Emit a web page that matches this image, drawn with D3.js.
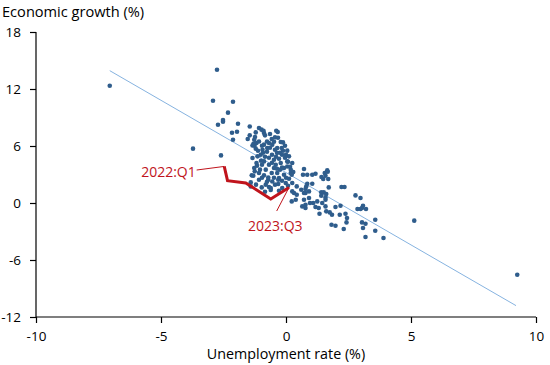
<!DOCTYPE html>
<html><head><meta charset="utf-8">
<script src="https://cdn.jsdelivr.net/npm/d3@7"></script>
<style>
html,body{margin:0;padding:0;background:#fff;}
text{font-family:"Open Sans",sans-serif;}
</style></head>
<body>
<svg id="chart" width="550" height="365"></svg>
<script>
// Scatter: change in unemployment rate (x) vs economic growth (y)
const unemp = [
-7.05,-2.76,-2.92,-2.12,-2.32,-2.52,-2.52,-2.72,-1.92,-2.16,-1.96,-2.12,-1.53,-3.72,-2.60,5.13,9.25,
-1.45,-1.08,-0.98,-1.21,-0.88,-0.64,-0.33,-1.24,-0.84,-0.57,-1.18,-1.26,-0.76,-0.12,-0.90,-0.39,-0.44,-1.27,-1.08,-0.68,-0.55,-0.21,-0.35,-0.17,0.05,-1.30,-1.21,-0.94,-0.75,
-1.01,-1.14,-1.18,-1.25,-1.04,-1.31,-1.41,-1.08,-0.97,-0.68,-0.71,-0.31,0.05,0.19,0.29,0.25,0.43,0.25,-1.27,-1.37,-1.08,-0.81,-0.61,-0.55,-0.31,-0.15,-0.01,0.12,0.23,0.19,0.25,0.05,0.12,-1.34,-0.88,-0.68,-0.41,-0.21,-0.08,-0.35,-0.57,-0.81,-0.28,-0.08,-0.71,-0.88,-0.48,
-0.76,-0.56,-0.36,-0.16,-0.04,-0.68,-0.48,-0.28,-1.00,-0.84,-0.12,-0.44,-0.64,-0.04,-0.96,-0.48,0.08,-0.16,-1.16,-0.96,-0.24,0.00,-0.48,-0.44,-0.76,-1.20,-0.61,-1.41,
0.72,0.68,0.85,1.05,1.18,1.55,1.65,1.69,1.49,0.32,0.61,0.78,0.92,0.85,1.05,1.41,1.41,1.51,1.58,1.45,1.25,1.09,0.72,0.78,0.78,1.31,1.58,1.98,2.18,2.34,2.78,2.98,1.42,0.78,0.92,0.39,1.58,1.71,1.18,2.86,1.84,2.15,2.44,1.82,1.98,2.31,3.08,3.20,2.98,3.57,3.04,3.18,3.08,3.57,3.18,3.90,2.42,2.38,1.75,1.61,1.34,0.81,0.72,0.43,0.23,2.22,1.61,0.96,0.65,1.58,1.67,3.04,
-1.45,-1.34,-0.88,-0.32,-0.24,-0.92,0.00,-0.56,-0.36,-0.96,-0.16,0.08,-0.28,-0.84,0.16,-1.12,-0.40
];
const growth = [
12.35,14.03,10.77,10.66,9.51,8.74,8.56,8.24,8.35,7.40,7.50,6.66,6.74,5.72,5.01,-1.86,-7.55,
8.06,7.89,7.72,7.43,7.37,7.26,7.47,6.95,7.12,6.74,6.32,6.03,6.48,6.38,7.61,7.61,6.91,6.66,6.48,6.32,6.14,6.42,5.79,5.79,5.51,6.24,5.72,5.61,5.79,
5.08,4.91,4.21,3.33,3.51,2.87,2.17,2.45,1.64,1.68,2.45,2.45,3.85,3.16,3.26,2.11,1.75,1.22,3.68,2.91,3.16,1.93,1.58,2.27,2.00,1.58,2.11,2.56,2.98,3.51,4.21,4.38,4.91,4.74,4.38,4.03,4.03,4.21,3.68,3.16,3.16,3.51,2.63,2.98,2.69,2.91,3.68,
5.40,5.08,5.28,5.08,4.77,4.77,4.56,4.66,4.45,4.87,5.50,5.61,5.82,6.03,6.03,6.45,4.35,3.72,3.93,4.03,3.50,2.66,2.66,1.93,2.24,1.93,1.37,1.75,
3.58,2.98,2.98,2.98,3.08,3.16,3.43,2.53,2.53,1.05,1.40,1.05,1.22,2.03,2.03,1.12,0.77,1.12,0.35,0.00,0.17,0.00,0.35,-0.18,-0.53,-0.53,-0.36,-0.42,-0.29,1.68,0.80,0.53,2.74,1.47,0.53,0.35,0.59,1.64,-0.42,-0.63,-1.24,-1.24,-1.58,-2.29,-2.39,-2.74,-0.29,-0.63,-0.63,-1.76,-2.04,-2.18,-2.63,-2.92,-3.58,-3.68,-2.04,-1.13,-0.99,-0.88,-1.13,1.75,1.05,0.87,0.17,1.68,0.95,0.00,-0.36,2.87,3.29,-0.53,
7.12,6.06,6.14,6.87,5.29,5.29,5.08,4.24,3.60,2.66,2.35,1.82,1.29,1.19,3.82,5.50,4.87
];
// Fitted line
const fitIntercept = 3.2;
const fitSlope = -1.522;
const fitRange = [-7.05, 9.2];
// 2022:Q1 - 2023:Q3 path
const pathUnemp = [-2.47, -2.34, -1.61, -0.61, 0.12];
const pathGrowth = [3.85, 2.35, 2.11, 0.42, 1.64];
const pathLabels = ["2022:Q1", "2023:Q3"];
const xTicks = [-10, -5, 0, 5, 10];
const yTicks = [-12, -6, 0, 6, 12, 18];
const xTitle = "Unemployment rate (%)";
const yTitle = "Economic growth (%)";

const svg = d3.select("#chart");
const x = d3.scaleLinear().domain([-10, 10]).range([36, 536]);
const y = d3.scaleLinear().domain([-12, 18]).range([317, 32]);

// axes
const fmt = d => d < 0 ? "-" + Math.abs(d) : d;
const xAxis = d3.axisBottom(x).tickValues(xTicks).tickSize(6).tickPadding(8).tickFormat(fmt);
const yAxis = d3.axisLeft(y).tickValues(yTicks).tickSize(6).tickPadding(9).tickFormat(fmt);
const gx = svg.append("g").attr("transform", `translate(0,${y(-12)})`).call(xAxis);
const gy = svg.append("g").attr("transform", `translate(${x(-10)},0)`).call(yAxis);
[gx, gy].forEach(g => {
  g.select(".domain").attr("stroke", "#000").attr("stroke-width", 1.2);
  g.selectAll(".tick line").attr("stroke", "#000").attr("stroke-width", 1.2);
  g.selectAll(".tick text").attr("fill", "#000").style("font-size", "13.5px")
    .style("font-family", "'Open Sans',sans-serif");
});
gx.select(".domain").attr("d", `M${x(-10)},0H${x(10)}`);
gy.select(".domain").attr("d", `M0,${y(18)}V${y(-12)}`);

svg.append("text").attr("x", 2).attr("y", 17.3).text(yTitle)
  .style("font-size", "14.6px").attr("fill", "#000");
svg.append("text").attr("x", x(0)).attr("y", 359).attr("text-anchor", "middle")
  .text(xTitle).style("font-size", "14.3px").attr("fill", "#000");

// fitted line
svg.append("line")
  .attr("x1", x(fitRange[0])).attr("y1", y(fitIntercept + fitSlope * fitRange[0]))
  .attr("x2", x(fitRange[1])).attr("y2", y(fitIntercept + fitSlope * fitRange[1]))
  .attr("stroke", "#86b3e0").attr("stroke-width", 1);

// points
svg.append("g").selectAll("circle").data(unemp.map((u, i) => [u, growth[i]]))
  .join("circle")
  .attr("cx", d => x(d[0])).attr("cy", d => y(d[1])).attr("r", 2.3)
  .attr("fill", "#2f5d8c");

// red path
const red = "#c0141c";
svg.append("path")
  .datum(pathUnemp.map((u, i) => [u, pathGrowth[i]]))
  .attr("d", d3.line().x(d => x(d[0])).y(d => y(d[1])))
  .attr("fill", "none").attr("stroke", red).attr("stroke-width", 3)
  .attr("stroke-linejoin", "miter");

// annotations
const p0 = [x(pathUnemp[0]), y(pathGrowth[0])];
const pN = [x(pathUnemp[pathUnemp.length - 1]), y(pathGrowth[pathGrowth.length - 1])];
svg.append("line").attr("x1", p0[0] - 27.6).attr("y1", p0[1] + 3.6).attr("x2", p0[0]).attr("y2", p0[1])
  .attr("stroke", red).attr("stroke-width", 1);
svg.append("text").attr("x", p0[0] - 28.5).attr("y", p0[1] + 11).attr("text-anchor", "end")
  .text(pathLabels[0]).attr("fill", red).style("font-size", "14px");
svg.append("line").attr("x1", pN[0]).attr("y1", pN[1]).attr("x2", pN[0] - 12.3).attr("y2", pN[1] + 23.6)
  .attr("stroke", red).attr("stroke-width", 1);
svg.append("text").attr("x", pN[0] - 13.7).attr("y", pN[1] + 43.3).attr("text-anchor", "middle")
  .text(pathLabels[1]).attr("fill", red).style("font-size", "14px");
</script>
</body></html>
